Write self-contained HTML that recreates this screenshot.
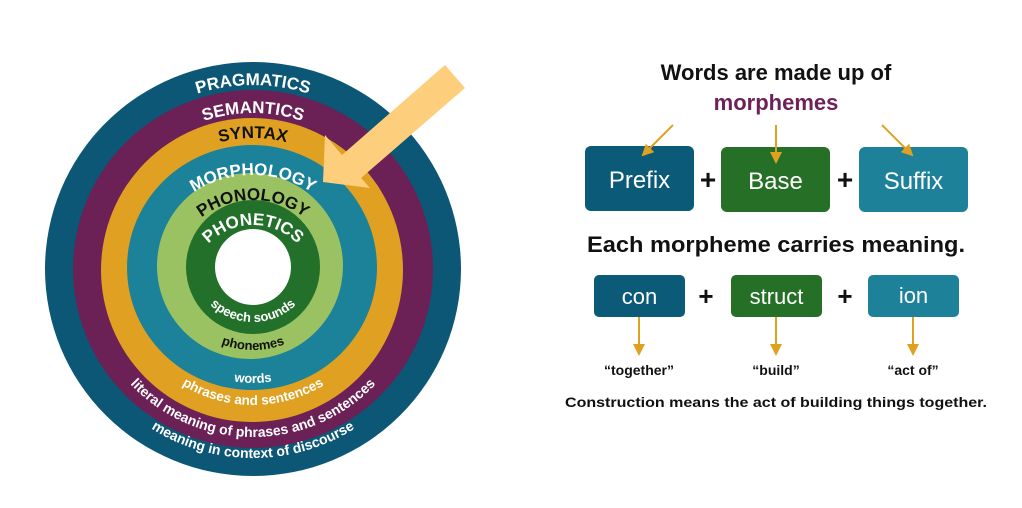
<!DOCTYPE html>
<html><head><meta charset="utf-8"><style>
html,body{margin:0;padding:0;background:#fff;}
svg{display:block;}
text{font-family:"Liberation Sans",sans-serif;font-weight:bold;}
</style></head><body>
<svg width="1022" height="508" viewBox="0 0 1022 508" xmlns="http://www.w3.org/2000/svg">
<defs>
<path id="tPrag" d="M70,268 A183,183 0 0 1 436,268"/>
<path id="tSem" d="M98,268 A155,155 0 0 1 408,268"/>
<path id="tSyn" d="M123,268 A130,130 0 0 1 383,268"/>
<path id="tMor" d="M143,285 A110,110 0 0 1 363,285"/>
<path id="tPhon" d="M168,285 A85,85 0 0 1 338,285"/>
<path id="tPhet" d="M191,287 A62,62 0 0 1 315,287"/>
<path id="bSp" d="M191,260 A62,62 0 0 0 315,260"/>
<path id="bPh" d="M163,260 A90,90 0 0 0 343,260"/>
<path id="bW" d="M138,268 A115,115 0 0 0 368,268"/>
<path id="bPS" d="M116,268 A137,137 0 0 0 390,268"/>
<path id="bLit" d="M84,268 A169,169 0 0 0 422,268"/>
<path id="bDis" d="M63,268 A190,190 0 0 0 443,268"/>
<marker id="ah" markerWidth="12" markerHeight="12" refX="10" refY="6" orient="auto" markerUnits="userSpaceOnUse"><path d="M0,0 L12,6 L0,12 Z" fill="#e0a020"/></marker>
</defs>
<!-- rings -->
<ellipse cx="253" cy="269" rx="208" ry="207" fill="#0b5775"/>
<ellipse cx="253" cy="269" rx="180" ry="179" fill="#6b2056"/>
<ellipse cx="252" cy="270" rx="151" ry="152" fill="#e0a021"/>
<ellipse cx="252" cy="267.5" rx="125" ry="122.5" fill="#1c8299"/>
<circle cx="250" cy="266" r="93" fill="#9bc262"/>
<circle cx="253" cy="267" r="67" fill="#22702a"/>
<circle cx="253" cy="267" r="38" fill="#fff"/>
<!-- ring labels -->
<text font-size="17" fill="#fff" text-anchor="middle"><textPath href="#tPrag" startOffset="50%">PRAGMATICS</textPath></text>
<text font-size="17" fill="#fff" text-anchor="middle"><textPath href="#tSem" startOffset="50%">SEMANTICS</textPath></text>
<text font-size="17" fill="#111" text-anchor="middle"><textPath href="#tSyn" startOffset="50%">SYNTAX</textPath></text>
<text font-size="17" fill="#fff" text-anchor="middle"><textPath href="#tMor" startOffset="50%">MORPHOLOGY</textPath></text>
<text font-size="17" fill="#111" text-anchor="middle"><textPath href="#tPhon" startOffset="50%">PHONOLOGY</textPath></text>
<text font-size="17" fill="#fff" text-anchor="middle"><textPath href="#tPhet" startOffset="50%">PHONETICS</textPath></text>
<text font-size="13" fill="#fff" text-anchor="middle"><textPath href="#bSp" startOffset="50%">speech sounds</textPath></text>
<text font-size="13" fill="#111" text-anchor="middle"><textPath href="#bPh" startOffset="50%">phonemes</textPath></text>
<text font-size="13" fill="#fff" text-anchor="middle"><textPath href="#bW" startOffset="50%">words</textPath></text>
<text font-size="13.5" fill="#fff" text-anchor="middle"><textPath href="#bPS" startOffset="50%">phrases and sentences</textPath></text>
<text font-size="14" fill="#fff" text-anchor="middle"><textPath href="#bLit" startOffset="50%">literal meaning of phrases and sentences</textPath></text>
<text font-size="14" fill="#fff" text-anchor="middle"><textPath href="#bDis" startOffset="50%">meaning in context of discourse</textPath></text>
<!-- big arrow -->
<polygon points="445,65 465,88 361,178 370,188 323,182 325,135 342,155" fill="#fdcf7c"/>
<!-- right side -->
<text x="776" y="80" font-size="22" fill="#111" text-anchor="middle">Words are made up of</text>
<text x="776" y="110" font-size="22" fill="#6e2158" text-anchor="middle">morphemes</text>
<rect x="585" y="146" width="109" height="65" rx="6" fill="#0a5a78"/>
<rect x="721" y="147" width="109" height="65" rx="6" fill="#256f27"/>
<rect x="859" y="147" width="109" height="65" rx="6" fill="#1d8299"/>
<line x1="673" y1="125" x2="643" y2="155" stroke="#e0a020" stroke-width="2" marker-end="url(#ah)"/>
<line x1="776" y1="125" x2="776" y2="162" stroke="#e0a020" stroke-width="2" marker-end="url(#ah)"/>
<line x1="882" y1="125" x2="912" y2="155" stroke="#e0a020" stroke-width="2" marker-end="url(#ah)"/>
<text x="639.5" y="188" font-size="24" style="font-weight:normal" fill="#fff" text-anchor="middle">Prefix</text>
<text x="775.5" y="189" font-size="24" style="font-weight:normal" fill="#fff" text-anchor="middle">Base</text>
<text x="913.5" y="189" font-size="24" style="font-weight:normal" fill="#fff" text-anchor="middle">Suffix</text>
<text x="708" y="189" font-size="28" fill="#111" text-anchor="middle">+</text>
<text x="845" y="189" font-size="28" fill="#111" text-anchor="middle">+</text>
<text x="776" y="252" font-size="22" fill="#111" text-anchor="middle" textLength="378" lengthAdjust="spacingAndGlyphs">Each morpheme carries meaning.</text>
<rect x="594" y="275" width="91" height="42" rx="5" fill="#0a5a78"/>
<rect x="731" y="275" width="91" height="42" rx="5" fill="#256f27"/>
<rect x="868" y="275" width="91" height="42" rx="5" fill="#1d8299"/>
<text x="639.5" y="304" font-size="22" style="font-weight:normal" fill="#fff" text-anchor="middle">con</text>
<text x="776.5" y="304" font-size="22" style="font-weight:normal" fill="#fff" text-anchor="middle">struct</text>
<text x="913.5" y="303" font-size="22" style="font-weight:normal" fill="#fff" text-anchor="middle">ion</text>
<text x="706" y="305" font-size="26" fill="#111" text-anchor="middle">+</text>
<text x="845" y="305" font-size="26" fill="#111" text-anchor="middle">+</text>
<line x1="639" y1="317" x2="639" y2="354" stroke="#e0a020" stroke-width="2" marker-end="url(#ah)"/>
<line x1="776" y1="317" x2="776" y2="354" stroke="#e0a020" stroke-width="2" marker-end="url(#ah)"/>
<line x1="913" y1="317" x2="913" y2="354" stroke="#e0a020" stroke-width="2" marker-end="url(#ah)"/>
<text x="639" y="375" font-size="14" fill="#111" text-anchor="middle">“together”</text>
<text x="776" y="375" font-size="14" fill="#111" text-anchor="middle">“build”</text>
<text x="913" y="375" font-size="14" fill="#111" text-anchor="middle">“act of”</text>
<text x="776" y="407" font-size="14" fill="#111" text-anchor="middle" textLength="422" lengthAdjust="spacingAndGlyphs">Construction means the act of building things together.</text>
</svg>
</body></html>
